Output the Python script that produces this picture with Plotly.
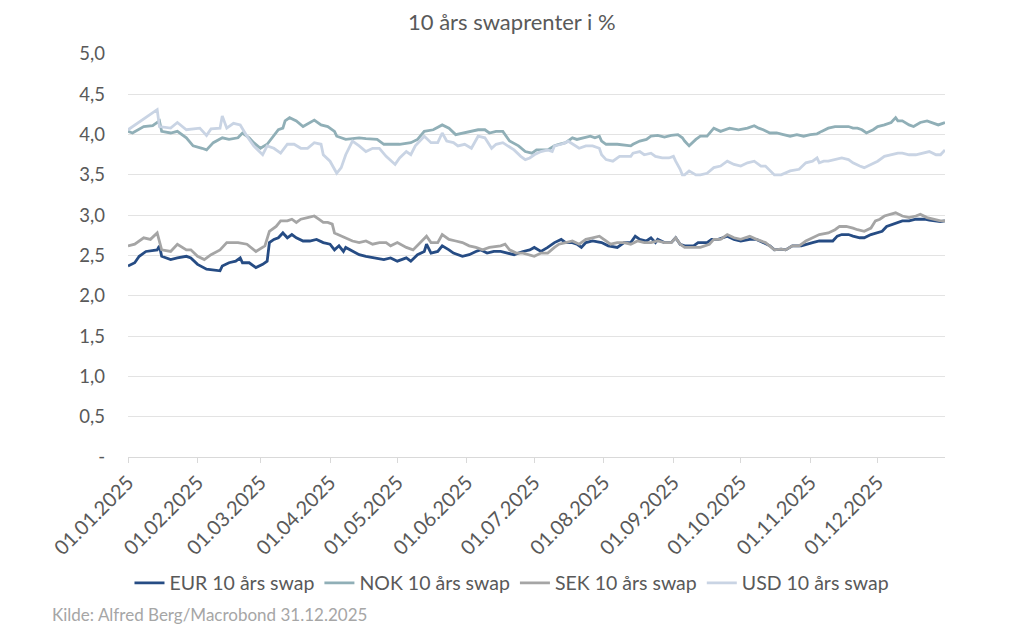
import pandas as pd
import plotly.graph_objects as go

START = "2025-01-01"

# Day offsets from 01.01.2025 and values (%)
eur_days = [0, 3, 5, 8, 13, 14, 15, 19, 22, 26, 28, 31, 35, 40, 41, 42, 45, 48, 50, 51, 54, 57, 60,
            62, 63, 65, 67, 69, 71, 73, 75, 78, 81, 84, 87, 90, 92, 94, 96, 97, 100, 103, 106, 111, 114, 117, 120,
            124, 126, 129, 132, 133, 135, 138, 140, 143, 145, 149, 152, 155, 157, 160, 163, 166, 169, 172, 176, 179, 181, 184,
            187, 190, 193, 195, 198, 200, 202, 204, 207, 211, 214, 218, 221, 224, 226, 228, 231, 233, 235, 236, 239, 242, 244, 246, 248,
            252, 254, 258, 260, 263, 267, 270, 273, 277, 280, 283, 286, 288, 291, 293, 296, 300, 302, 305, 308,
            312, 314, 316, 318, 321, 323, 326, 328, 331, 334, 336, 338, 341, 343, 345, 348, 351, 353, 355, 357, 360, 362, 364]
eur_vals = [2.37, 2.41, 2.49, 2.55, 2.57, 2.62, 2.49, 2.45, 2.47, 2.49, 2.47, 2.39, 2.33, 2.31, 2.31, 2.37, 2.41, 2.43, 2.47, 2.41, 2.41, 2.35, 2.39,
            2.43, 2.66, 2.70, 2.72, 2.78, 2.72, 2.76, 2.72, 2.68, 2.68, 2.70, 2.66, 2.64, 2.57, 2.62, 2.55, 2.60, 2.55, 2.51, 2.49, 2.47, 2.45, 2.47, 2.43,
            2.47, 2.43, 2.51, 2.55, 2.64, 2.53, 2.55, 2.62, 2.57, 2.53, 2.49, 2.51, 2.55, 2.57, 2.53, 2.55, 2.55, 2.53, 2.51, 2.55, 2.57, 2.60, 2.55,
            2.60, 2.66, 2.70, 2.66, 2.66, 2.64, 2.60, 2.66, 2.68, 2.66, 2.62, 2.60, 2.66, 2.66, 2.74, 2.70, 2.68, 2.72, 2.66, 2.70, 2.66, 2.66, 2.72, 2.64, 2.62,
            2.62, 2.66, 2.66, 2.70, 2.70, 2.74, 2.70, 2.68, 2.70, 2.70, 2.66, 2.62, 2.57, 2.58, 2.57, 2.62, 2.62, 2.64, 2.66, 2.68,
            2.68, 2.68, 2.74, 2.76, 2.76, 2.74, 2.72, 2.72, 2.76, 2.78, 2.80, 2.86, 2.89, 2.91, 2.93, 2.93, 2.95, 2.95, 2.95, 2.94, 2.93, 2.92, 2.93]

nok_days = [0, 2, 7, 11, 14, 15, 19, 22, 26, 29, 33, 35, 38, 42, 45, 49, 51, 54, 56, 59,
            62, 65, 67, 69, 70, 72, 75, 78, 83, 86, 89, 92, 93, 97, 100, 103, 106, 111, 114, 118,
            121, 126, 129, 132, 136, 140, 143, 146, 149, 152, 156, 159, 161, 164, 167, 170, 174, 177, 180, 182,
            184, 187, 190, 192, 195, 198, 200, 203, 206, 208, 210, 211, 213, 218, 224, 225, 228, 231, 233, 236, 239, 242, 245, 247,
            248, 250, 253, 255, 258, 261, 264, 268, 272, 276, 279, 281, 283, 286, 289, 292, 295, 298, 301, 304, 307,
            309, 312, 315, 318, 321, 323, 325, 327, 329, 332, 334, 337, 340, 342, 343, 345, 348, 350, 353, 356, 359, 361, 363, 364]
nok_vals = [4.04, 4.02, 4.10, 4.11, 4.17, 4.04, 4.02, 4.04, 3.96, 3.86, 3.83, 3.81, 3.90, 3.96, 3.94, 3.96, 4.02, 3.96, 3.90, 3.83,
            3.88, 3.98, 4.06, 4.08, 4.17, 4.21, 4.17, 4.10, 4.18, 4.12, 4.10, 4.04, 3.98, 3.94, 3.95, 3.96, 3.95, 3.94, 3.88, 3.88,
            3.88, 3.90, 3.94, 4.04, 4.06, 4.12, 4.08, 4.00, 4.02, 4.04, 4.06, 4.06, 4.02, 4.04, 4.04, 3.92, 3.86, 3.79, 3.77, 3.81,
            3.81, 3.81, 3.86, 3.88, 3.90, 3.96, 3.94, 3.96, 3.98, 3.96, 3.98, 3.92, 3.88, 3.88, 3.86, 3.88, 3.92, 3.94, 3.98, 3.99, 3.97, 3.99, 4.00, 3.96,
            3.92, 3.86, 3.94, 3.98, 3.98, 4.08, 4.04, 4.08, 4.06, 4.08, 4.11, 4.08, 4.06, 4.02, 4.02, 4.00, 3.98, 4.00, 3.98, 4.00, 4.01,
            4.04, 4.08, 4.10, 4.10, 4.10, 4.08, 4.08, 4.06, 4.02, 4.06, 4.10, 4.12, 4.15, 4.21, 4.17, 4.17, 4.12, 4.10, 4.15, 4.17, 4.14, 4.12, 4.14, 4.15]

sek_days = [0, 3, 7, 10, 13, 15, 19, 22, 26, 28, 31, 34, 37, 41, 44, 49, 53, 57, 61,
            63, 66, 68, 71, 73, 75, 77, 80, 83, 85, 87, 89, 91, 92, 95, 97, 100, 103, 106, 109, 112, 115, 117, 120,
            124, 127, 130, 133, 135, 138, 140, 143, 146, 149, 152, 155, 158, 161, 166, 168, 170, 173, 176, 179, 181, 184,
            187, 190, 192, 195, 198, 201, 204, 207, 210, 212, 215, 218, 221, 224, 227, 230, 233, 236, 239, 242, 244, 246, 248,
            252, 255, 259, 261, 264, 267, 270, 273, 277, 280, 284, 286, 288, 291, 293, 296, 299, 302, 305, 308,
            312, 315, 317, 320, 323, 325, 328, 331, 333, 335, 337, 340, 342, 345, 348, 351, 353, 356, 359, 362, 364]
sek_vals = [2.62, 2.64, 2.72, 2.70, 2.78, 2.57, 2.55, 2.64, 2.57, 2.57, 2.49, 2.45, 2.51, 2.57, 2.66, 2.66, 2.64, 2.55, 2.62,
            2.80, 2.86, 2.93, 2.93, 2.95, 2.91, 2.95, 2.97, 2.99, 2.95, 2.91, 2.91, 2.89, 2.78, 2.74, 2.72, 2.68, 2.66, 2.68, 2.64, 2.66, 2.66, 2.62, 2.66,
            2.60, 2.57, 2.66, 2.74, 2.66, 2.66, 2.76, 2.70, 2.68, 2.66, 2.62, 2.60, 2.57, 2.60, 2.62, 2.64, 2.57, 2.53, 2.53, 2.51, 2.49, 2.53,
            2.53, 2.60, 2.64, 2.66, 2.68, 2.64, 2.70, 2.72, 2.74, 2.70, 2.64, 2.66, 2.66, 2.64, 2.68, 2.66, 2.66, 2.68, 2.66, 2.66, 2.72, 2.64, 2.60,
            2.60, 2.60, 2.64, 2.70, 2.70, 2.76, 2.72, 2.70, 2.74, 2.70, 2.66, 2.62, 2.57, 2.58, 2.57, 2.62, 2.62, 2.68, 2.72, 2.76,
            2.78, 2.82, 2.86, 2.86, 2.84, 2.82, 2.80, 2.84, 2.93, 2.95, 2.99, 3.01, 3.03, 2.99, 2.97, 2.99, 3.01, 2.97, 2.95, 2.93, 2.93]

usd_days = [0, 7, 11, 13, 14, 19, 22, 26, 32, 35, 37, 41, 42, 44, 47, 50, 53, 56, 60,
            62, 65, 68, 71, 74, 77, 80, 83, 86, 87, 90, 93, 95, 97, 100, 103, 106, 109, 112, 115, 119, 121,
            124, 126, 128, 130, 132, 135, 138, 140, 142, 145, 147, 150, 153, 156, 159, 162, 164, 167, 169, 172, 175, 177, 179, 181, 184,
            187, 189, 190, 193, 195, 196, 198, 201, 204, 207, 210, 211, 213, 216, 219, 224, 225, 228, 230, 233, 235, 238, 241, 243, 244, 246, 247,
            248, 250, 253, 255, 258, 261, 264, 267, 270, 273, 276, 279, 282, 284, 286, 288, 291, 295, 299, 302, 305, 307, 308, 310,
            312, 315, 318, 321, 323, 326, 328, 331, 334, 337, 340, 343, 345, 348, 351, 354, 357, 360, 362, 364]
usd_vals = [4.06, 4.19, 4.27, 4.31, 4.10, 4.08, 4.15, 4.06, 4.08, 3.99, 4.07, 4.08, 4.23, 4.08, 4.14, 4.12, 3.98, 3.86, 3.75,
            3.86, 3.83, 3.77, 3.88, 3.88, 3.83, 3.83, 3.90, 3.88, 3.75, 3.67, 3.52, 3.59, 3.75, 3.92, 3.86, 3.79, 3.83, 3.83, 3.73, 3.63, 3.71,
            3.79, 3.75, 3.86, 3.92, 3.98, 3.90, 3.90, 4.02, 3.92, 3.90, 3.86, 3.88, 3.83, 3.98, 3.96, 3.83, 3.88, 3.90, 3.86, 3.81, 3.73, 3.69, 3.71, 3.75, 3.79,
            3.81, 3.79, 3.86, 3.88, 3.90, 3.92, 3.88, 3.83, 3.86, 3.86, 3.83, 3.75, 3.69, 3.67, 3.73, 3.73, 3.77, 3.79, 3.75, 3.77, 3.73, 3.71, 3.71, 3.73, 3.67, 3.57, 3.50,
            3.50, 3.55, 3.50, 3.50, 3.52, 3.59, 3.61, 3.67, 3.63, 3.61, 3.65, 3.67, 3.61, 3.61, 3.55, 3.50, 3.50, 3.55, 3.57, 3.65, 3.67, 3.71, 3.65, 3.67,
            3.67, 3.69, 3.71, 3.69, 3.65, 3.61, 3.59, 3.63, 3.67, 3.73, 3.75, 3.77, 3.77, 3.75, 3.75, 3.77, 3.79, 3.75, 3.75, 3.81]

series_names = ["EUR 10 års swap", "NOK 10 års swap", "SEK 10 års swap", "USD 10 års swap"]
series_colors = ["#264C84", "#90AFB7", "#A5A5A5", "#C9D4E4"]

month_ticks = pd.date_range("2025-01-01", "2025-12-01", freq="MS")
y_tickvals = [0, 0.5, 1.0, 1.5, 2.0, 2.5, 3.0, 3.5, 4.0, 4.5, 5.0]
y_ticktext = ["-", "0,5", "1,0", "1,5", "2,0", "2,5", "3,0", "3,5", "4,0", "4,5", "5,0"]

FONT = "Lato, Noto Sans, sans-serif"
TXT = "#595959"


def to_dates(days):
    return pd.Timestamp(START) + pd.to_timedelta(days, unit="D")


fig = go.Figure()
for name, color, days, vals in zip(series_names, series_colors,
                                   [eur_days, nok_days, sek_days, usd_days],
                                   [eur_vals, nok_vals, sek_vals, usd_vals]):
    fig.add_trace(go.Scatter(x=to_dates(days), y=vals, mode="lines", name=name,
                             line=dict(color=color, width=2.8)))

fig.update_layout(
    width=1024, height=631,
    margin=dict(l=120, r=87, t=46, b=182),
    paper_bgcolor="white", plot_bgcolor="white",
    font=dict(family=FONT, color=TXT, size=17),
    title=dict(text="10 års swaprenter i %", x=0.492, xanchor="center", y=0.978, yanchor="middle",
               font=dict(size=22, color=TXT, family=FONT)),
    showlegend=True,
    legend=dict(orientation="h", x=0.47, xanchor="center", y=-0.313, yanchor="middle",
                font=dict(size=19.5, color=TXT, family=FONT), itemwidth=30,
                bgcolor="rgba(0,0,0,0)"),
    xaxis=dict(type="date", range=["2025-01-01", "2025-12-31"], tickvals=month_ticks,
               tickformat="%d.%m.%Y", tickangle=-45, showgrid=False,
               showline=True, linecolor="#D9D9D9", linewidth=1,
               ticks="outside", ticklen=5, tickcolor="#D9D9D9",
               tickfont=dict(size=20, color=TXT, family=FONT), zeroline=False),
    yaxis=dict(range=[0, 5], tickvals=y_tickvals, ticktext=y_ticktext,
               showgrid=True, gridcolor="#E3E3E3", gridwidth=1, zeroline=False,
               ticks="", ticklabelstandoff=22,
               tickfont=dict(size=18.5, color=TXT, family=FONT)),
    annotations=[dict(text="Kilde: Alfred Berg/Macrobond 31.12.2025", xref="paper", yref="paper",
                      x=-0.095, y=-0.392, xanchor="left", yanchor="middle", showarrow=False,
                      font=dict(size=17, color="#A6A6A6", family=FONT))],
)

fig.write_html("out.html")
